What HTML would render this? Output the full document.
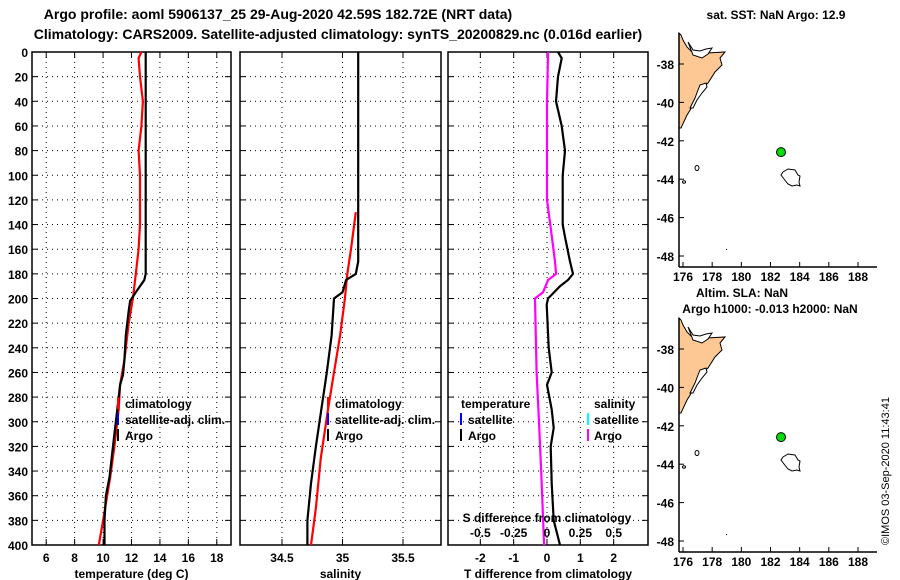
<!DOCTYPE html>
<html><head><meta charset="utf-8">
<style>
html,body{margin:0;padding:0;background:#fff;}
svg{display:block;font-family:"Liberation Sans",Arial,sans-serif;font-weight:bold;}
</style></head>
<body>
<svg id="fig" width="900" height="580" viewBox="0 0 900 580" xmlns="http://www.w3.org/2000/svg">
<text x="278" y="19" font-size="14" text-anchor="middle">Argo profile: aoml 5906137_25 29-Aug-2020 42.59S 182.72E (NRT data)</text>
<text x="338" y="39" font-size="14" text-anchor="middle">Climatology: CARS2009. Satellite-adjusted climatology: synTS_20200829.nc (0.016d earlier)</text>
<text transform="translate(889,545) rotate(-90)" font-size="11" font-weight="normal">©IMOS 03-Sep-2020 11:43:41</text>
</svg>
<script>
// ---- data ----
const depthTicks = [0,20,40,60,80,100,120,140,160,180,200,220,240,260,280,300,320,340,360,380,400];
const tempTicks = [6,8,10,12,14,16,18];
const salTicks = [34.5,35,35.5];
const salTickLabels = ["34.5","35","35.5"];
const tdiffTicks = [-2,-1,0,1,2];
const sdiffTicks = [-0.5,-0.25,0,0.25,0.5];
const sdiffTickLabels = ["-0.5","-0.25","0","0.25","0.5"];
const lonTicks = [176,178,180,182,184,186,188];
const latTicks = [-38,-40,-42,-44,-46,-48];

const argoTDepth = [0,180,185,195,202,210,230,250,262,270,290,310,330,345,360,380,400];
const argoTemp   = [13,13,12.9,12.3,11.9,11.8,11.6,11.5,11.4,11.2,11.0,10.8,10.6,10.45,10.2,10.1,10.1];
const climTDepth = [0,5,20,40,60,80,100,140,160,180,200,220,250,270,290,320,345,380,400];
const climTemp   = [12.7,12.5,12.6,12.8,12.7,12.5,12.6,12.6,12.5,12.3,12.1,11.8,11.5,11.2,11.1,10.8,10.5,10.0,9.7];

const argoSDepth = [0,170,180,185,195,200,230,260,300,320,350,380,400];
const argoSal    = [35.13,35.13,35.11,35.03,35.0,34.93,34.91,34.87,34.81,34.78,34.74,34.71,34.71];
const climSDepth = [130,160,180,200,230,260,290,330,370,400];
const climSal    = [35.11,35.07,35.04,35.02,34.98,34.93,34.88,34.82,34.78,34.74];

const tdiffDepth = [0,5,20,40,60,80,100,140,150,170,180,185,190,200,205,240,260,270,290,305,320,350,380,400];
const tdiff      = [0.33,0.44,0.33,0.27,0.44,0.54,0.47,0.47,0.54,0.69,0.78,0.63,0.39,0.03,-0.01,0.05,0.14,0.0,0.14,0.2,0.11,0.14,0.2,0.39];
const sdiffDepth = [0,40,120,140,170,180,185,195,200,260,300,350,400];
const sdiff      = [0.008,0.0,0.0,0.025,0.06,0.068,0.008,-0.03,-0.09,-0.078,-0.06,-0.04,-0.022];

const argoLon = 182.72, argoLat = -42.59;

// ---- helpers ----
const NS="http://www.w3.org/2000/svg";
const svg=document.getElementById('fig');
function mk(tag,attrs,parent){const e=document.createElementNS(NS,tag);for(const k in attrs)e.setAttribute(k,attrs[k]);(parent||svg).appendChild(e);return e;}
function txt(x,y,s,size,anchor,parent){const t=mk('text',{x:x,y:y,'font-size':size||12,'text-anchor':anchor||'middle'},parent);t.textContent=s;return t;}

const TOP=52,BOT=545;
const yD=d=>TOP+d*(BOT-TOP)/400;

function panel(name,x0,x1,xmin,xmax){
  const g=mk('g',{});
  
  
  const sx=v=>x0+(v-xmin)/(xmax-xmin)*(x1-x0);
  return {g,sx};
}
function frame(g,x0,x1,name){
  const r=mk('rect',{x:x0,y:TOP,width:x1-x0,height:BOT-TOP,fill:'none',stroke:'#000','stroke-width':1.5},g);
  
  
}
function hgrid(g,x0,x1,labels){
  depthTicks.forEach(d=>{
    const y=yD(d);
    if(d>0&&d<400){
      const l=mk('line',{x1:x0,x2:x1,y1:y,y2:y,stroke:'#000','stroke-dasharray':'1,4','stroke-width':1},g);
      
      
    }
    mk('line',{x1:x0,x2:x0+6,y1:y,y2:y,stroke:'#000'},g);
    mk('line',{x1:x1-6,x2:x1,y1:y,y2:y,stroke:'#000'},g);
    if(labels){
      const t=txt(x0-4,y+5,String(d),12,'end',g);
      
      
    }
  });
}
function vgrid(g,xs,labs,y){
  xs.forEach((x,i)=>{
    const l=mk('line',{x1:x,x2:x,y1:TOP,y2:BOT,stroke:'#000','stroke-dasharray':'1,4'},g);
    
    
    mk('line',{x1:x,x2:x,y1:BOT-6,y2:BOT,stroke:'#000'},g);
    mk('line',{x1:x,x2:x,y1:TOP,y2:TOP+6,stroke:'#000'},g);
    const t=txt(x,y,labs[i],12,'middle',g);
    
    
  });
}
function line(g,xs,ds,sx,color,name){
  const pts=xs.map((v,i)=>sx(v).toFixed(1)+','+yD(ds[i]).toFixed(1)).join(' ');
  const p=mk('polyline',{points:pts,fill:'none',stroke:color,'stroke-width':2.2},g);
  
  
}
function legtick(g,x,y,color){mk('line',{x1:x,x2:x,y1:y-7,y2:y+5,stroke:color,'stroke-width':2},g);}

// ---- temperature panel ----
{
  const x0=32,x1=231;const P=panel('temperature-panel',x0,x1,5,19);
  frame(P.g,x0,x1,'temperature-axes');
  hgrid(P.g,x0,x1,true);
  vgrid(P.g,tempTicks.map(P.sx),tempTicks.map(String),562);
  line(P.g,climTemp,climTDepth,P.sx,'#f00','climatology-temperature-line');
  line(P.g,argoTemp,argoTDepth,P.sx,'#000','argo-temperature-line');
  const xl=txt((x0+x1)/2,578,'temperature (deg C)',12,'middle',P.g);
  
  
  legtick(P.g,118,404,'#f00');legtick(P.g,118,420,'#00f');legtick(P.g,118,436,'#000');
  txt(125,408,'climatology',12,'start',P.g);
  txt(125,424,'satellite-adj. clim.',12,'start',P.g);
  txt(125,440,'Argo',12,'start',P.g);
}
// ---- salinity panel ----
{
  const x0=240,x1=441;const P=panel('salinity-panel',x0,x1,34.153,35.814);
  frame(P.g,x0,x1,'salinity-axes');
  hgrid(P.g,x0,x1,false);
  vgrid(P.g,salTicks.map(P.sx),salTickLabels,562);
  line(P.g,climSal,climSDepth,P.sx,'#f00','climatology-salinity-line');
  line(P.g,argoSal,argoSDepth,P.sx,'#000','argo-salinity-line');
  const xl=txt((x0+x1)/2,578,'salinity',12,'middle',P.g);
  
  
  legtick(P.g,328,404,'#f00');legtick(P.g,328,420,'#00f');legtick(P.g,328,436,'#000');
  txt(335,408,'climatology',12,'start',P.g);
  txt(335,424,'satellite-adj. clim.',12,'start',P.g);
  txt(335,440,'Argo',12,'start',P.g);
}
// ---- difference panel ----
{
  const x0=448,x1=648;const P=panel('difference-panel',x0,x1,-2.97,3.03);
  const ss=v=>P.sx(v*4);
  frame(P.g,x0,x1,'difference-axes');
  hgrid(P.g,x0,x1,false);
  vgrid(P.g,tdiffTicks.map(P.sx),tdiffTicks.map(String),562);
  line(P.g,sdiff,sdiffDepth,ss,'#f0f','salinity-difference-line');
  line(P.g,tdiff,tdiffDepth,P.sx,'#000','temperature-difference-line');
  const xl=txt((x0+x1)/2,578,'T difference from climatology',12,'middle',P.g);
  
  
  const st=txt(547,522,'S difference from climatology',12,'middle',P.g);
  
  
  sdiffTicks.forEach((v,i)=>{const t=txt(ss(v),537,sdiffTickLabels[i],12,'middle',P.g);
    });
  txt(461,408,'temperature',12,'start',P.g);
  legtick(P.g,461,420,'#00f');legtick(P.g,461,436,'#000');
  txt(468,424,'satellite',12,'start',P.g);
  txt(468,440,'Argo',12,'start',P.g);
  txt(594,408,'salinity',12,'start',P.g);
  legtick(P.g,588,420,'#0ff');legtick(P.g,588,436,'#f0f');
  txt(594,424,'satellite',12,'start',P.g);
  txt(594,440,'Argo',12,'start',P.g);
}
// ---- maps ----
function map(dy,name,title1,title2){
  const g=mk('g',{transform:'translate(0,'+dy+')'});
  
  
  const L=679,R=877,T=33,B=267;
  const mx=lon=>683+(lon-176)*(175/12);
  const my=lat=>64+(-38-lat)*19.2;
  // land
  const land=mk('path',{d:'M679,33 L681,35 L683,40 L687,47 L693,53 L700,55 L707,53 L725,52 L720,58 L722,65 L715,72 L708,83 L702,88 L697,97 L692,107 L687,115 L681,128 L679,128 Z',fill:'#fdc894',stroke:'#000','stroke-width':1},g);
  
  
  mk('path',{d:'M688,42 L693,50 L700,51 L706,49 L712,48 L708,54 L702,58 L693,55 Z',fill:'#fff',stroke:'#000','stroke-width':1},g);
  mk('path',{d:'M700,85 L698,90 L695,98 L690,108 L693,108 L697,100 L702,93 L707,87 L706,83 Z',fill:'#fff',stroke:'#000','stroke-width':1},g);
  const ch=mk('path',{d:'M783,172 L788,169 L795,170 L798,175 L800,176 L799,182 L800,186 L797,185 L792,186 L788,184 L784,179 L781,175 Z',fill:'#fff',stroke:'#000','stroke-width':1},g);
  
  
  mk('ellipse',{cx:697,cy:168,rx:2,ry:2.5,fill:'none',stroke:'#000'},g);
  mk('ellipse',{cx:684,cy:182,rx:1.5,ry:1.2,fill:'none',stroke:'#000'},g);
  mk('rect',{x:726,y:249,width:1,height:1,fill:'#000'},g);
  // axes
  mk('line',{x1:L,x2:L,y1:T,y2:B,stroke:'#000','stroke-width':1.5},g);
  mk('line',{x1:L,x2:R,y1:B,y2:B,stroke:'#000','stroke-width':1.5},g);
  latTicks.forEach(v=>{const y=my(v);mk('line',{x1:L,x2:L+5,y1:y,y2:y,stroke:'#000'},g);
    const t=txt(L-5,y+5,String(v),12,'end',g);});
  lonTicks.forEach(v=>{const x=mx(v);mk('line',{x1:x,x2:x,y1:B-5,y2:B,stroke:'#000'},g);
    const t=txt(x,B+14,String(v),12,'middle',g);});
  const dot=mk('circle',{cx:mx(argoLon),cy:my(argoLat),r:4.5,fill:'#0d0',stroke:'#000','stroke-width':1},g);
  
  
  return g;
}
const m1=map(0,'sst-map');
const t1=txt(776,19,'sat. SST: NaN Argo: 12.9',12,'middle');

const m2=map(285,'sla-map');
const t2=txt(742,297,'Altim. SLA: NaN',12,'middle');

const t3=txt(770,313,'Argo h1000: -0.013 h2000: NaN',12,'middle');

</script>
</body></html>
